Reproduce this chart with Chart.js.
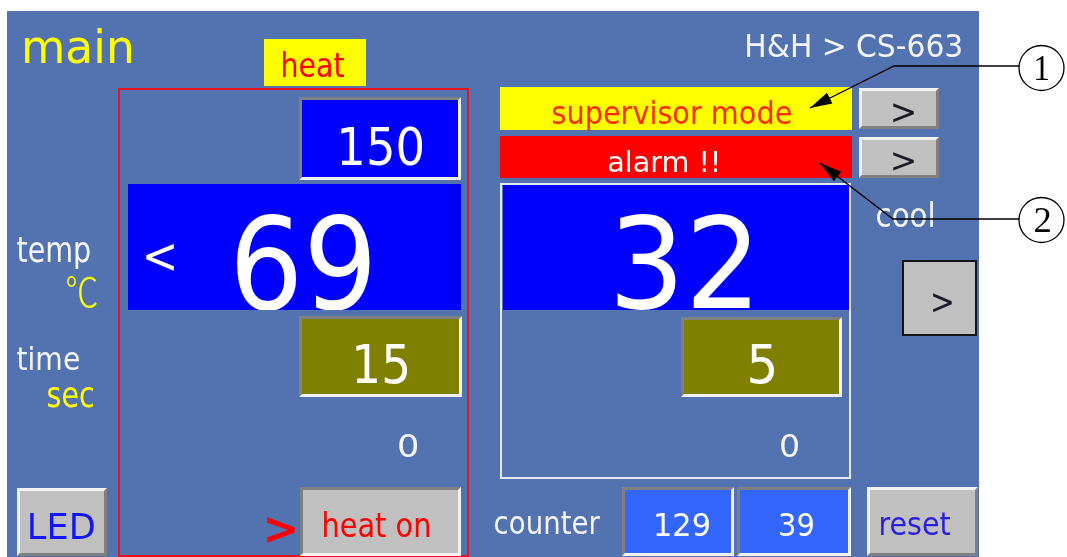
<!DOCTYPE html>
<html lang="en">
<head>
<meta charset="UTF-8">
<title>main - H&amp;H &gt; CS-663</title>
<script src="https://cdn.jsdelivr.net/npm/chart.js"></script>
<style>
    html, body { margin: 0; padding: 0; background: #ffffff; }
    #panel { display: block; }
</style>
</head>
<body>
<canvas id="panel" width="1067" height="557"></canvas>
<script>
// screen readings
const heatValues = [150, 69, 15, 0];      // setpoint, temp, time, timer
const coolValues = [32, 5, 0];            // temp, time, timer
const counterValues = [129, 39];
const sideLabels = ['temp', '\u2103', 'time', 'sec'];
const statusLabels = ['supervisor mode', 'alarm !!'];
const buttonLabels = ['LED', 'heat on', 'reset', '>'];
const titleLabels = ['main', 'heat', 'cool', 'counter', 'H&H > CS-663'];
const calloutLabels = ['1', '2'];

const FONT = '"DejaVu Sans", sans-serif';
const BG = '#5373b0';

// widget boxes [x0, y0, x1, y1] in screen units
const boxes = {
    panel: [7, 11, 979, 557],
    heatTag: [264, 39, 366, 86],
    heatFrame: [119, 89, 468, 556],
    heatSet: [299, 97, 461, 180],
    heatTemp: [128, 184, 461, 310],
    heatTime: [299, 316, 462, 397],
    heatOn: [300, 487, 461, 556],
    led: [17, 488, 107, 556],
    status1: [500, 87, 852, 130],
    status2: [500, 136, 852, 178],
    btn1: [859, 88, 939, 129],
    btn2: [859, 137, 939, 178],
    coolFrame: [501, 184, 850, 478],
    coolTemp: [503, 185, 849, 310],
    coolTime: [681, 317, 842, 397],
    coolBtn: [902, 260, 977, 336],
    cnt1: [622, 487, 734, 556],
    cnt2: [737, 487, 851, 556],
    reset: [867, 487, 978, 556]
};

// ink boxes of texts [left, top, right, baseline]
const ink = {
    main: [25, 28, 131, 63],
    heat: [283, 51, 344, 77],
    brand: [747, 33, 961, 57],
    sup: [553, 100, 791, 124],
    alarm: [609, 150, 717, 172],
    temp: [17, 237, 90, 262],
    degC: [67, 276, 97, 307],
    time: [17, 346, 79, 370],
    sec: [48, 387, 93, 407],
    heatSet: [341, 126, 422, 165],
    heatTemp: [236, 213, 370, 309],
    heatTime: [356, 343, 407, 383],
    heatTimer: [399, 433, 417, 457],
    coolTemp: [617, 213, 750, 308],
    coolTime: [750, 343, 774, 383],
    coolTimer: [781, 433, 798, 457],
    cool: [877, 202, 933, 227],
    led: [30, 513, 94, 539],
    heatOn: [324, 512, 429, 537],
    counter: [495, 512, 600, 534],
    cnt1: [656, 512, 709, 536],
    cnt2: [780, 512, 813, 536],
    reset: [881, 513, 950, 535]
};

// plain glyph boxes [left, top, right, bottom]
const glyphs = {
    back: [146, 244, 174, 271],
    heatArrow: [267, 517, 295, 543],
    btn1: [893, 103, 914, 123],
    btn2: [893, 152, 914, 171],
    coolBtn: [933, 293, 952, 313],
    call1: [1036, 57, 1048, 80],
    call2: [1035, 208, 1050, 232]
};

const callouts = [
    { c: [1041.5, 68], r: 22.5, knee: [894, 66], tip: [810, 108] },
    { c: [1041.5, 220], r: 22.5, knee: [893, 219], tip: [820, 163] }
];

const hmiPlugin = {
    id: 'hmiPanel',
    afterDraw(chart) {
        const ctx = chart.ctx;
        const X = v => chart.scales.x.getPixelForValue(v);
        const Y = v => chart.scales.y.getPixelForValue(v);
        const B = b => [X(b[0]), Y(b[1]), X(b[2]), Y(b[3])];

        function fill(b, color) {
            const p = B(b);
            ctx.fillStyle = color;
            ctx.fillRect(p[0], p[1], p[2] - p[0], p[3] - p[1]);
        }

        function bevel(b, face, kind) {
            const [x0, y0, x1, y1] = B(b);
            const w = 3;
            ctx.fillStyle = face;
            ctx.fillRect(x0, y0, x1 - x0, y1 - y0);
            const light = '#f2f2f2', dark = '#808080';
            ctx.fillStyle = kind === 'raised' ? light : dark;
            ctx.beginPath();
            ctx.moveTo(x0, y0); ctx.lineTo(x1, y0); ctx.lineTo(x1 - w, y0 + w);
            ctx.lineTo(x0 + w, y0 + w); ctx.lineTo(x0 + w, y1 - w); ctx.lineTo(x0, y1);
            ctx.closePath(); ctx.fill();
            ctx.fillStyle = kind === 'raised' ? dark : light;
            ctx.beginPath();
            ctx.moveTo(x1, y1); ctx.lineTo(x0, y1); ctx.lineTo(x0 + w, y1 - w);
            ctx.lineTo(x1 - w, y1 - w); ctx.lineTo(x1 - w, y0 + w); ctx.lineTo(x1, y0);
            ctx.closePath(); ctx.fill();
        }

        function frame(b, color, lw) {
            const [x0, y0, x1, y1] = B(b);
            ctx.strokeStyle = color;
            ctx.lineWidth = lw;
            ctx.strokeRect(x0, y0, x1 - x0, y1 - y0);
        }

        // fit text ink into a box; box=true means last value is ink bottom, not baseline
        function text(str, b, color, opts) {
            opts = opts || {};
            const [l, t, r, base] = B(b);
            ctx.save();
            ctx.font = (opts.weight || 'normal') + ' 100px ' + (opts.family || FONT);
            ctx.textAlign = 'left';
            ctx.textBaseline = 'alphabetic';
            const m = ctx.measureText(str);
            const w = m.actualBoundingBoxLeft + m.actualBoundingBoxRight;
            const asc = m.actualBoundingBoxAscent;
            const h = opts.box ? asc + m.actualBoundingBoxDescent : asc;
            const sx = (r - l) / w, sy = (base - t) / h;
            if (opts.clip) {
                const c = B(opts.clip);
                ctx.beginPath();
                ctx.rect(c[0], c[1], c[2] - c[0], c[3] - c[1]);
                ctx.clip();
            }
            ctx.translate(l + m.actualBoundingBoxLeft * sx, t + asc * sy);
            ctx.scale(sx, sy);
            ctx.fillStyle = color;
            ctx.fillText(str, 0, 0);
            ctx.restore();
        }

        const white = '#f4f6fb', yellow = '#ffff00', red = '#ff0000';

        // panel
        fill(boxes.panel, BG);
        text(titleLabels[0], ink.main, yellow);
        text(titleLabels[4], ink.brand, white);

        // heat side
        fill(boxes.heatTag, yellow);
        text(titleLabels[1], ink.heat, red);
        frame(boxes.heatFrame, '#e8121c', 2);
        bevel(boxes.heatSet, '#0000ff', 'sunken');
        text(String(heatValues[0]), ink.heatSet, '#ffffff');
        fill(boxes.heatTemp, '#0000ff');
        text('<', glyphs.back, '#ffffff', { box: true });
        text(String(heatValues[1]), ink.heatTemp, '#ffffff', { clip: boxes.heatTemp });
        bevel(boxes.heatTime, '#808000', 'sunken');
        text(String(heatValues[2]), ink.heatTime, '#ffffff');
        text(String(heatValues[3]), ink.heatTimer, white);
        bevel(boxes.heatOn, '#c0c0c0', 'sunken');
        text(buttonLabels[1], ink.heatOn, red);
        text('>', glyphs.heatArrow, red, { box: true, weight: 'bold' });

        // side labels
        text(sideLabels[0], ink.temp, white);
        text(sideLabels[1], ink.degC, yellow, { family: '"Noto Sans CJK SC", sans-serif', weight: '300' });
        text(sideLabels[2], ink.time, white);
        text(sideLabels[3], ink.sec, yellow);
        bevel(boxes.led, '#c0c0c0', 'raised');
        text(buttonLabels[0], ink.led, '#1414ff');

        // status bars
        fill(boxes.status1, yellow);
        text(statusLabels[0], ink.sup, '#ff2a00');
        fill(boxes.status2, red);
        text(statusLabels[1], ink.alarm, '#ffffff');
        bevel(boxes.btn1, '#c0c0c0', 'raised');
        text(buttonLabels[3], glyphs.btn1, '#1c1c28', { box: true });
        bevel(boxes.btn2, '#c0c0c0', 'raised');
        text(buttonLabels[3], glyphs.btn2, '#1c1c28', { box: true });

        // cool side
        frame(boxes.coolFrame, '#e6e8ee', 2);
        fill(boxes.coolTemp, '#0000ff');
        text(String(coolValues[0]), ink.coolTemp, '#ffffff', { clip: boxes.coolTemp });
        bevel(boxes.coolTime, '#808000', 'sunken');
        text(String(coolValues[1]), ink.coolTime, '#ffffff');
        text(String(coolValues[2]), ink.coolTimer, white);
        text(titleLabels[2], ink.cool, white);
        fill(boxes.coolBtn, '#c0c0c0');
        frame([boxes.coolBtn[0] + 1, boxes.coolBtn[1] + 1, boxes.coolBtn[2] - 1, boxes.coolBtn[3] - 1], '#141414', 2);
        text(buttonLabels[3], glyphs.coolBtn, '#1c1c28', { box: true });

        // counter row
        text(titleLabels[3], ink.counter, white);
        bevel(boxes.cnt1, '#3366ff', 'sunken');
        text(String(counterValues[0]), ink.cnt1, '#ffffff');
        bevel(boxes.cnt2, '#3366ff', 'sunken');
        text(String(counterValues[1]), ink.cnt2, '#ffffff');
        bevel(boxes.reset, '#c0c0c0', 'raised');
        text(buttonLabels[2], ink.reset, '#2a1ee6');

        // callouts
        ctx.save();
        ctx.strokeStyle = '#000000';
        ctx.fillStyle = '#000000';
        ctx.lineWidth = 1.3;
        callouts.forEach((co, i) => {
            const cx = X(co.c[0]), cy = Y(co.c[1]);
            ctx.beginPath();
            ctx.arc(cx, cy, co.r, 0, Math.PI * 2);
            ctx.stroke();
            const kx = X(co.knee[0]), ky = Y(co.knee[1]);
            const tx = X(co.tip[0]), ty = Y(co.tip[1]);
            ctx.beginPath();
            ctx.moveTo(cx - co.r, ky);
            ctx.lineTo(kx, ky);
            ctx.lineTo(tx, ty);
            ctx.stroke();
            const a = Math.atan2(ty - ky, tx - kx);
            const len = 22, half = 6;
            ctx.beginPath();
            ctx.moveTo(tx, ty);
            ctx.lineTo(tx - len * Math.cos(a) + half * Math.sin(a), ty - len * Math.sin(a) - half * Math.cos(a));
            ctx.lineTo(tx - len * Math.cos(a) - half * Math.sin(a), ty - len * Math.sin(a) + half * Math.cos(a));
            ctx.closePath();
            ctx.fill();
        });
        ctx.restore();
        text(calloutLabels[0], glyphs.call1, '#000000', { box: true, family: '"Liberation Serif", serif' });
        text(calloutLabels[1], glyphs.call2, '#000000', { box: true, family: '"Liberation Serif", serif' });
    }
};

new Chart(document.getElementById('panel'), {
    type: 'scatter',
    data: { datasets: [] },
    options: {
        responsive: false,
        animation: false,
        devicePixelRatio: 1,
        events: [],
        layout: { padding: 0 },
        plugins: { legend: { display: false }, tooltip: { enabled: false } },
        scales: {
            x: { type: 'linear', min: 0, max: 1067, display: false },
            y: { type: 'linear', min: 0, max: 557, reverse: true, display: false }
        }
    },
    plugins: [hmiPlugin]
});
</script>
</body>
</html>
